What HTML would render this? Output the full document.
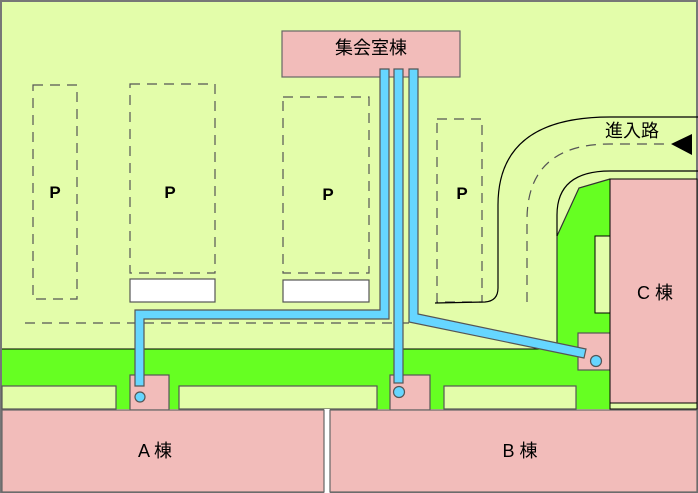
<!DOCTYPE html>
<html><head><meta charset="utf-8"><style>
html,body{margin:0;padding:0;background:#fff}
svg{display:block}
text{font-family:"Liberation Sans","Noto Sans CJK JP",sans-serif;fill:#000}
</style></head><body>
<svg width="698" height="493" viewBox="0 0 698 493" xmlns="http://www.w3.org/2000/svg">
<rect x="1" y="1" width="696" height="491" fill="#e3fdaa" stroke="#777" stroke-width="2"/>
<polygon points="2,349 557,349 557,236 579,188 610,179 610,409 2,409" fill="#66ff22"/>
<line x1="2" y1="349" x2="557" y2="349" stroke="#000" stroke-width="1"/>
<polyline points="557,349 557,236 579,188 610,179" fill="none" stroke="#333" stroke-width="1.2"/>
<rect x="2" y="386" width="114" height="23" fill="#e3fdaa" stroke="#555" stroke-width="1.2"/>
<rect x="179" y="386" width="198" height="23" fill="#e3fdaa" stroke="#555" stroke-width="1.2"/>
<rect x="444" y="386" width="132" height="23" fill="#e3fdaa" stroke="#555" stroke-width="1.2"/>
<rect x="595" y="236" width="15" height="77" fill="#e3fdaa" stroke="#000" stroke-width="1"/>
<rect x="610" y="403" width="87" height="6" fill="#e3fdaa" stroke="#000" stroke-width="1"/>
<rect x="130" y="375" width="39" height="35" fill="#f2bcba" stroke="#555" stroke-width="1.2"/>
<rect x="390" y="375" width="40" height="35" fill="#f2bcba" stroke="#555" stroke-width="1.2"/>
<rect x="578" y="333" width="32" height="37" fill="#f2bcba" stroke="#555" stroke-width="1.2"/>
<rect x="324" y="409" width="6" height="84" fill="#fff"/>
<rect x="2" y="410" width="322" height="82" fill="#f2bcba" stroke="#666" stroke-width="1.2"/>
<rect x="330" y="410" width="367" height="82" fill="#f2bcba" stroke="#666" stroke-width="1.2"/>
<rect x="610" y="179" width="87" height="224" fill="#f2bcba" stroke="#000" stroke-width="1"/>
<rect x="282" y="31" width="178" height="46" fill="#f2bcba" stroke="#666" stroke-width="1.2"/>
<g fill="none" stroke="#555" stroke-width="1.2" stroke-dasharray="10,7">
<rect x="33" y="85" width="44" height="214"/>
<rect x="130" y="84" width="85" height="189"/>
<rect x="283" y="97" width="86" height="176"/>
<rect x="437" y="119" width="45" height="183"/>
<line x1="25" y1="323" x2="465" y2="323"/>
<path d="M527,302 L527,220 Q527,144 610,144 L668,144"/>
</g>
<rect x="130" y="279" width="85" height="23" fill="#fff" stroke="#555" stroke-width="1.2"/>
<rect x="283" y="280" width="86" height="22" fill="#fff" stroke="#555" stroke-width="1.2"/>
<path d="M435,303 L485,302 Q498,301 498,288 L498,205 Q498,117 610,117 L698,117" fill="none" stroke="#000" stroke-width="1.2"/>
<path d="M557,236 L557,215 Q557,171 610,171 L698,171" fill="none" stroke="#000" stroke-width="1.2"/>
<polygon points="671,144 692,134 692,155" fill="#000"/>
<g fill="#66d6ff" stroke="#555" stroke-width="1.2">
<polygon points="380,69 389,69 389,319 144,319 144,386 135,386 135,310 380,310"/>
<rect x="394" y="69" width="9" height="314"/>
<polygon points="409,69 418,69 418,314 586,349 584,358 409,322"/>
<circle cx="140" cy="397" r="5"/>
<circle cx="399" cy="392" r="5.5"/>
<circle cx="596" cy="361" r="5.5"/>
</g>
<g font-weight="bold" font-size="17" text-anchor="middle">
<text x="55" y="198">P</text><text x="170" y="198">P</text><text x="328" y="200">P</text><text x="462" y="199">P</text>
</g>
<g font-size="18" text-anchor="middle">
<text x="371" y="54">集会室棟</text>
<text x="632" y="137">進入路</text>
<text x="655" y="299">C 棟</text>
<text x="155" y="457">A 棟</text>
<text x="520" y="457">B 棟</text>
</g>
</svg>
</body></html>
